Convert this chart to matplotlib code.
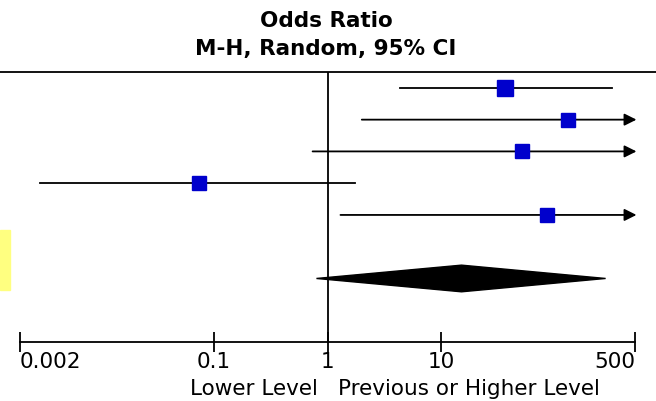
import matplotlib.pyplot as plt
from matplotlib.patches import Polygon, Rectangle
from matplotlib.lines import Line2D

# study estimates (odds ratio, 95% CI); upper > 500 gets an arrow
or_point = [36, 128, 51, 0.074, 85]
or_lower = [4.3, 2.0, 0.74, 0.003, 1.3]
or_upper = [314, 5000, 5000, 1.73, 5000]
box_size = [11, 10, 10, 10, 10]

# pooled estimate
pooled = [0.80, 15, 276]

tick_vals = [0.002, 0.1, 1, 10, 500]
tick_labels = ['0.002', '0.1', '1', '10', '500']

xmin, xmax = 0.002, 500

fig = plt.figure(figsize=(6.56, 4.01), dpi=100)
W, H = 656, 401
ax = fig.add_axes([20 / W, 1 - 342 / H, 615 / W, 270 / H])
ax.set_xscale('log')
ax.set_xlim(xmin, xmax)
ax.set_ylim(8.0, -0.5)

for s in ['top', 'left', 'right']:
    ax.spines[s].set_visible(False)
ax.spines['bottom'].set_linewidth(1.3)
ax.set_yticks([])
ax.set_xticks(tick_vals)
ax.set_xticklabels(tick_labels)
ax.minorticks_off()
ax.tick_params(axis='x', direction='inout', length=15, width=1.3, labelsize=15.5, pad=0)
lbls = ax.get_xticklabels()
lbls[0].set_ha('left')
lbls[-1].set_ha('right')

# line of no effect
ax.axvline(1, color='black', lw=1.3)

for i, (p, lo, hi, s) in enumerate(zip(or_point, or_lower, or_upper, box_size)):
    if hi > xmax:
        ax.annotate('', xy=(xmax * 1.03, i), xytext=(lo, i),
                    arrowprops=dict(arrowstyle='-|>', color='black', lw=1.3,
                                    mutation_scale=18, shrinkA=0, shrinkB=0),
                    annotation_clip=False)
    else:
        ax.plot([lo, hi], [i, i], color='black', lw=1.3)
    ax.plot(p, i, marker='s', ms=s, color='#0000CC', mec='#0000CC', zorder=5)

h = 0.42
ax.add_patch(Polygon([(pooled[0], 6), (pooled[1], 6 - h), (pooled[2], 6), (pooled[1], 6 + h)],
                     closed=True, color='black'))

# header
fig.text(326 / W, 1 - 21 / H, 'Odds Ratio', ha='center', va='center',
         fontsize=15.5, fontweight='bold')
fig.text(326 / W, 1 - 49 / H, 'M-H, Random, 95% CI', ha='center', va='center',
         fontsize=15.5, fontweight='bold')
fig.add_artist(Line2D([0, 1], [1 - 72 / H, 1 - 72 / H], color='black', lw=1.3))

# direction labels
fig.text(318 / W, 1 - 389 / H, 'Lower Level', ha='right', va='center', fontsize=15.5)
fig.text(338 / W, 1 - 389 / H, 'Previous or Higher Level', ha='left', va='center', fontsize=15.5)

# highlight strip at the left edge
fig.add_artist(Rectangle((0, 1 - 290 / H), 10 / W, 60 / H, color='#FFFF80',
                         transform=fig.transFigure))

fig.savefig('out.png', dpi=100)
